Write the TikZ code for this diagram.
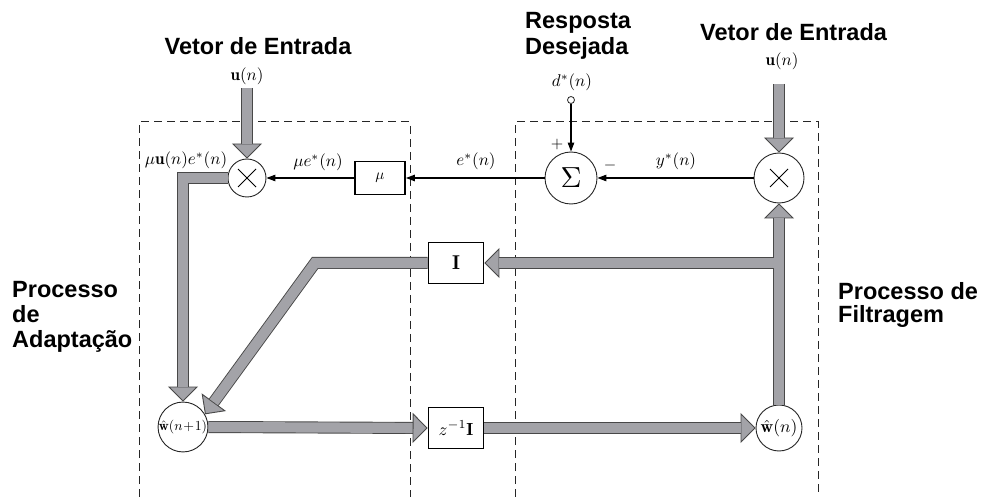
\documentclass[tikz,border=0pt]{standalone}
\usepackage{graphicx}
\usepackage{fontspec}
\newfontfamily\labfont{Liberation Sans}
\usetikzlibrary{arrows.meta,calc}
\definecolor{lg}{RGB}{163,163,168}
\definecolor{dk}{RGB}{72,72,72}
\newcommand\mysc[2]{\scalebox{#1}{$#2$}}
\begin{document}
\begin{tikzpicture}[x=1pt,y=-1pt,
  circ/.style={circle,draw=black!85,line width=0.9pt,fill=white,inner sep=0pt},
  blk/.style={rectangle,draw=black,line width=1.8pt,fill=white,inner sep=0pt,minimum width=55pt,minimum height=41pt},
  mlab/.style={inner sep=0pt},
  title/.style={font=\labfont\bfseries\fontsize{23.5}{26}\selectfont,inner sep=0pt},
  dashbox/.style={draw=black!85,line width=1pt,dash pattern=on 8pt off 5pt},
  thinarr/.style={line width=1.1pt,-{Triangle[length=9pt,width=6.5pt]}},
  fa1/.style={line width=12pt,draw=dk,line join=miter,-{Triangle[length=15pt,width=30pt,fill=lg,line width=0.9pt]}},
  fa2/.style={line width=10.2pt,draw=lg,line join=miter,shorten >=15pt},
  fl1/.style={line width=12pt,draw=dk},
  fl2/.style={line width=10.2pt,draw=lg}]
\useasboundingbox (0,0) rectangle (986,497);

% dashed process boxes
\draw[dashbox] (139,497) -- (139,122) -- (410,122) -- (410,497);
\draw[dashbox] (515,497) -- (515,122) -- (818,122) -- (818,497);

% titles
\node[title,anchor=base] (t1) at (258,55) {Vetor de Entrada};
\node[title,anchor=base west] (t2) at (700,41) {Vetor de Entrada};
\node[title,anchor=base west] (t3) at (525,28.5) {Resposta};
\node[title,anchor=base west] (t4) at (525,55) {Desejada};
\node[title,anchor=base west] (t5) at (12,298) {Processo};
\node[title,anchor=base west] (t6) at (12,323) {de};
\node[title,anchor=base west] (t7) at (12,348) {Adaptação};
\node[title,anchor=base west] (t8) at (838,300) {Processo de};
\node[title,anchor=base west] (t9) at (838,323) {Filtragem};

% blocks
\node[circ,minimum size=38pt] (m1) at (247,178) {};
\node[circ,minimum size=50pt] (m2) at (779,178) {};
\node[circ,minimum size=52pt] (sig) at (571,178) {\mysc{2.9}{\Sigma}};
\node[circ,minimum size=7pt,line width=0.8pt] (dsrc) at (571,100) {};
\node[blk,minimum width=50pt,minimum height=33pt] (mu) at (380,178) {\mysc{1.5}{\mu}};
\node[blk] (I) at (456,263) {\mysc{2.0}{\mathbf{I}}};
\node[blk] (zI) at (456,428) {\mysc{1.75}{z^{-1}\mathbf{I}}};
\node[circ,minimum size=46pt] (w1) at (183,427) {\mysc{1.38}{\hat{\mathbf{w}}(n\!+\!1)}};
\node[circ,minimum size=46pt] (w2) at (779,428) {\mysc{1.75}{\hat{\mathbf{w}}(n)}};

\coordinate (u1s) at (247,88);
\coordinate (u2s) at (779,84);
\coordinate (bend) at (315,263);
\coordinate (br) at (779,263);

% thick arrows (two passes: outline, then fill)
\foreach \a/\l in {fa1/fl1,fa2/fl2}{
  \draw[\a] (u1s) -- (m1.north);
  \draw[\a] (u2s) -- (m2.north);
  \draw[\a] (m1.west) -| (w1.north);
  \draw[\a] (I.west) -- (bend) -- (w1.30);
  \draw[\a] (w1.east) -- (zI.west);
  \draw[\a] (zI.east) -- (w2.west);
  \draw[\a] (w2.north) -- (m2.south);
  \draw[\a] (br) -- (I.east);
}

% crosses in multipliers
\draw[line width=0.9pt] ([shift={(-9,-9)}]m1.center) -- ([shift={(9,9)}]m1.center)
  ([shift={(-9,9)}]m1.center) -- ([shift={(9,-9)}]m1.center);
\draw[line width=0.9pt] ([shift={(-9,-9)}]m2.center) -- ([shift={(9,9)}]m2.center)
  ([shift={(-9,9)}]m2.center) -- ([shift={(9,-9)}]m2.center);

% thin signal arrows
\draw[thinarr] (sig.west) -- (mu.east);
\draw[thinarr] (mu.west) -- (m1.east);
\draw[thinarr] (m2.west) -- (sig.east);
\draw[thinarr] (dsrc.south) -- (sig.north);

% math labels
\node[mlab] (l1) at (186,160) {\mysc{1.7}{\mu\mathbf{u}(n)e^*(n)}};
\node[mlab] (l2) at (318,162) {\mysc{1.7}{\mu e^*(n)}};
\node[mlab] (l3) at (476,161) {\mysc{1.7}{e^*(n)}};
\node[mlab] (l4) at (676,161) {\mysc{1.7}{y^*(n)}};
\node[mlab] (l5) at (572,82) {\mysc{1.7}{d^*(n)}};
\node[mlab] (l6) at (557,145) {\mysc{1.6}{+}};
\node[mlab] (l7) at (610,166) {\mysc{1.6}{-}};
\node[mlab] (l8) at (247,76) {\mysc{1.7}{\mathbf{u}(n)}};
\node[mlab] (l9) at (782,61) {\mysc{1.7}{\mathbf{u}(n)}};
\end{tikzpicture}
\end{document}
